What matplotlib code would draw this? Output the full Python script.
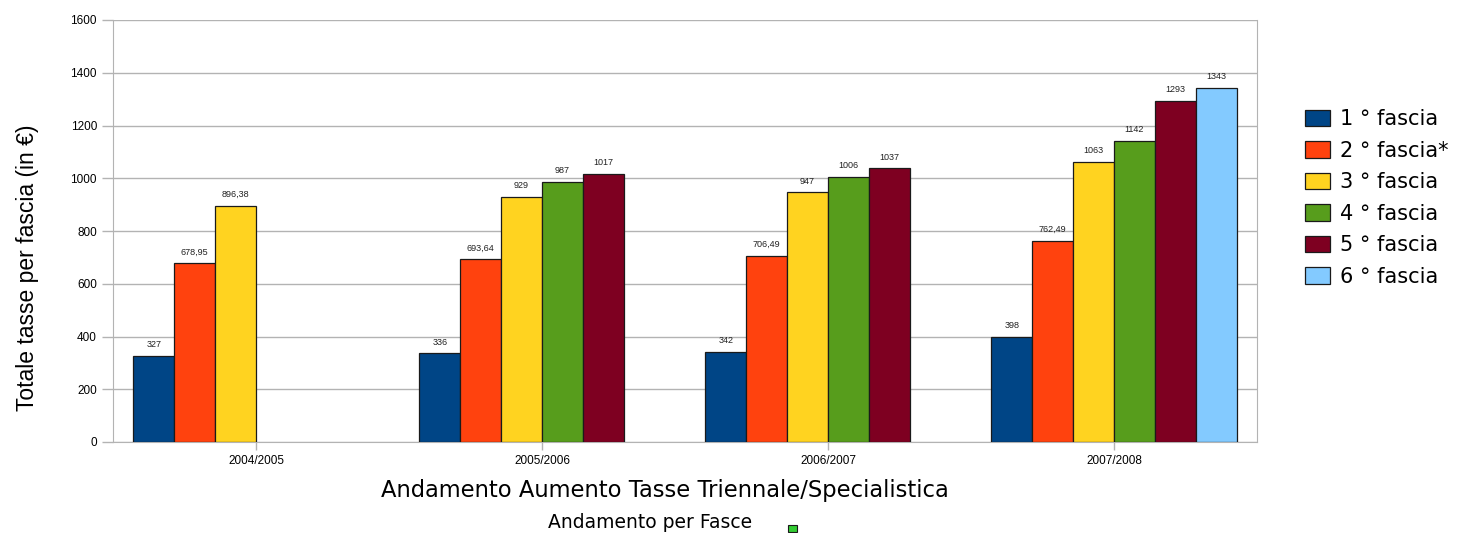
#!/bin/env python3

'''
Andamento tasse per fascia - grouped bar chart
'''

import numpy as np
import matplotlib.pyplot as plt
from matplotlib.patches import Rectangle

plt.rcParams['font.family'] = ['Liberation Sans', 'DejaVu Sans']

##############################################################
# Data
##############################################################
years = ["2004/2005", "2005/2006", "2006/2007", "2007/2008"]
fasce = ["1 ° fascia", "2 ° fascia*", "3 ° fascia", "4 ° fascia", "5 ° fascia", "6 ° fascia"]
colors = ["#004586", "#ff420e", "#ffd320", "#579d1c", "#7e0021", "#83caff"]

fascia_1 = [327, 336, 342, 398]
fascia_2 = [678.95, 693.64, 706.49, 762.49]
fascia_3 = [896.38, 929, 947, 1063]
fascia_4 = [None, 987, 1006, 1142]
fascia_5 = [None, 1017, 1037, 1293]
fascia_6 = [None, None, None, 1343]
series = [fascia_1, fascia_2, fascia_3, fascia_4, fascia_5, fascia_6]


def fmt(v):
    if float(v).is_integer():
        return "%d" % v
    return ("%.2f" % v).replace(".", ",")


##############################################################
# Plot
##############################################################
fig = plt.figure(figsize=(14.7, 5.33), dpi=100)
ax = fig.add_axes([113 / 1470, 1 - 442 / 533, 1144 / 1470, 422 / 533])

x = np.arange(len(years))
width = 0.143
for i, (vals, col, name) in enumerate(zip(series, colors, fasce)):
    pos = x + (i - 2.5) * width
    for p, v in zip(pos, vals):
        if v is None:
            continue
        ax.bar(p, v, width, color=col, edgecolor="#1a1a1a", linewidth=0.9, zorder=3)
        ax.text(p, v + 25, fmt(v), ha="center", va="bottom", fontsize=6.5, color="#222222")
    ax.bar(0, 0, 0, color=col, edgecolor="#1a1a1a", linewidth=0.9, label=name)

ax.set_xlim(-0.5, 3.5)
ax.set_ylim(0, 1600)
ax.set_yticks(np.arange(0, 1601, 200))
ax.set_xticks(x)
ax.set_xticklabels(years)
ax.tick_params(axis="both", labelsize=8.5, color="#b3b3b3", length=8, width=1)
ax.tick_params(axis="x", length=6, pad=3)
ax.yaxis.grid(True, color="#b3b3b3", linewidth=1, zorder=0)
ax.set_axisbelow(True)
for s in ax.spines.values():
    s.set_color("#b3b3b3")
ax.spines["top"].set_visible(False)

fig.text(28 / 1470, 1 - 268 / 533, "Totale tasse per fascia (in €)", rotation=90,
         fontsize=16.5, ha="center", va="center")
fig.text(665 / 1470, 1 - 491 / 533, "Andamento Aumento Tasse Triennale/Specialistica",
         fontsize=16.3, family=["DejaVu Sans"], ha="center", va="center")
fig.text(548 / 1470, 1 - 523 / 533, "Andamento per Fasce", fontsize=13.5,
         family=["DejaVu Sans"], va="center")
fig.patches.append(Rectangle((788 / 1470, 1 - 532 / 533), 9 / 1470, 7 / 533,
                             facecolor="#33cc33", edgecolor="#1a1a1a", linewidth=0.8,
                             transform=fig.transFigure, figure=fig))

ax.legend(loc="upper left", bbox_to_anchor=(1.026, 0.833), frameon=False,
          prop={"family": "DejaVu Sans", "size": 15},
          handlelength=1.2, handleheight=0.85, handletextpad=0.45, labelspacing=0.55)

fig.savefig("out.png", dpi=100)
